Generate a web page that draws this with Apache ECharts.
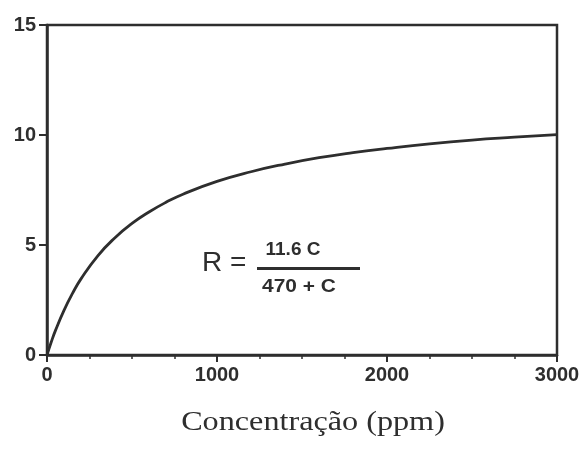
<!DOCTYPE html>
<html>
<head>
<meta charset="utf-8">
<script src="https://cdn.jsdelivr.net/npm/echarts@6/dist/echarts.min.js"></script>
<style>
  html, body { margin: 0; padding: 0; background: #fff; }
  #chart { width: 585px; height: 450px; }
</style>
</head>
<body>
<div id="chart"></div>
<script>
// ---- datos ----
const concentracao = [0, 25, 50, 100, 150, 200, 300, 400, 500, 600, 700, 800, 1000, 1200, 1400, 1600, 1800, 2000, 2250, 2500, 2750, 3000];
const resposta = [0, 0.59, 1.12, 2.03, 2.80, 3.46, 4.52, 5.33, 5.98, 6.50, 6.94, 7.31, 7.89, 8.33, 8.68, 8.97, 9.20, 9.39, 9.60, 9.77, 9.90, 10.02];
const xTicks = [0, 1000, 2000, 3000];
const yTicks = [0, 5, 10, 15];

const INK = '#2e2e2e';
const SANS = 'Liberation Sans, Arial, sans-serif';
const tickFont = { color: INK, fontFamily: SANS, fontWeight: 'bold', fontSize: 20 };

const chart = echarts.init(document.getElementById('chart'), null, { renderer: 'canvas' });
chart.setOption({
  backgroundColor: '#fff',
  animation: false,
  grid: { left: 47, top: 25, right: 28, bottom: 95, show: true, borderColor: INK, borderWidth: 2.5 },
  xAxis: {
    type: 'value', min: xTicks[0], max: xTicks[xTicks.length - 1], interval: 1000,
    axisLine: { lineStyle: { color: INK, width: 2.5 } },
    axisTick: { inside: false, length: 7, lineStyle: { color: INK, width: 2 } },
    minorTick: { show: true, splitNumber: 4, length: 4, lineStyle: { color: INK, width: 1.5 } },
    splitLine: { show: false },
    axisLabel: Object.assign({ margin: 10, formatter: v => String(v) }, tickFont),
  },
  yAxis: {
    type: 'value', min: yTicks[0], max: yTicks[yTicks.length - 1], interval: 5,
    axisLine: { lineStyle: { color: INK, width: 2.5 } },
    axisTick: { inside: false, length: 8, lineStyle: { color: INK, width: 2 } },
    splitLine: { show: false },
    axisLabel: Object.assign({ margin: 11 }, tickFont),
  },
  series: [{
    type: 'line', smooth: true, showSymbol: false,
    data: concentracao.map((c, i) => [c, resposta[i]]),
    lineStyle: { color: INK, width: 2.8 },
  }],
  graphic: [
    { type: 'text', x: 202, y: 263, style: { text: 'R =', fill: INK, fontFamily: SANS, fontSize: 28, textVerticalAlign: 'middle' } },
    { type: 'text', x: 293, y: 250, style: { text: '11.6 C', fill: INK, fontFamily: SANS, fontWeight: 'bold', fontSize: 19, textAlign: 'center', textVerticalAlign: 'middle' } },
    { type: 'rect', shape: { x: 257, y: 267, width: 103, height: 3 }, style: { fill: INK } },
    { type: 'text', x: 299, y: 287, scaleX: 1.1, style: { text: '470 + C', fill: INK, fontFamily: SANS, fontWeight: 'bold', fontSize: 19, textAlign: 'center', textVerticalAlign: 'middle' } },
    { type: 'text', x: 313, y: 423, scaleX: 1.15, style: { text: 'Concentração (ppm)', fill: INK, fontFamily: 'Liberation Serif, Times New Roman, serif', fontSize: 28, textAlign: 'center', textVerticalAlign: 'middle' } },
  ],
});
</script>
</body>
</html>
